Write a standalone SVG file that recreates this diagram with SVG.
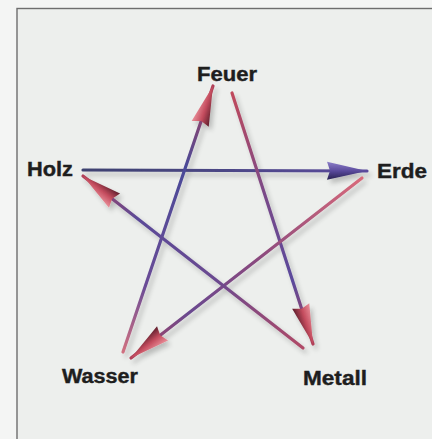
<svg xmlns="http://www.w3.org/2000/svg" width="432" height="439" viewBox="0 0 432 439">
<style>
.lbl{font-family:"Liberation Sans",Arial,sans-serif;font-weight:bold;font-size:20px;fill:#1e1e1e;stroke:#1e1e1e;stroke-width:0.4;}
.ln{stroke-width:3.2;fill:none;stroke-linecap:round;}
</style>
<defs>
<linearGradient id="hr" x1="0" y1="0" x2="0" y2="1">
<stop offset="0" stop-color="#ea909a"/><stop offset="0.5" stop-color="#c44c5e"/><stop offset="1" stop-color="#5e1e2c"/>
</linearGradient>
<linearGradient id="hb" x1="0" y1="0" x2="0" y2="1">
<stop offset="0" stop-color="#8c7ec8"/><stop offset="0.5" stop-color="#5a4a9c"/><stop offset="1" stop-color="#262050"/>
</linearGradient>
<marker id="mr" markerUnits="userSpaceOnUse" markerWidth="42" markerHeight="20" refX="40" refY="10" orient="auto" overflow="visible">
<path d="M0,1 L40,10 L0,19 L3,10 z" fill="url(#hr)"/>
</marker>
<marker id="mb" markerUnits="userSpaceOnUse" markerWidth="42" markerHeight="20" refX="40" refY="10" orient="auto" overflow="visible">
<path d="M0,1 L40,10 L0,19 L3,10 z" fill="url(#hb)"/>
</marker>
<linearGradient id="g1" gradientUnits="userSpaceOnUse" x1="83" y1="170" x2="367" y2="171">
<stop offset="0" stop-color="#3e4270"/><stop offset="1" stop-color="#5a4a9c"/>
</linearGradient>
<linearGradient id="g2" gradientUnits="userSpaceOnUse" x1="123" y1="352" x2="212" y2="87">
<stop offset="0" stop-color="#d07080"/><stop offset="0.25" stop-color="#6a4c96"/><stop offset="0.7" stop-color="#4a4a98"/><stop offset="1" stop-color="#b04058"/>
</linearGradient>
<linearGradient id="g3" gradientUnits="userSpaceOnUse" x1="232" y1="93" x2="313" y2="344">
<stop offset="0" stop-color="#c04a5c"/><stop offset="0.4" stop-color="#7a4a88"/><stop offset="0.75" stop-color="#5a4a9c"/><stop offset="1" stop-color="#b04058"/>
</linearGradient>
<linearGradient id="g4" gradientUnits="userSpaceOnUse" x1="362" y1="178" x2="131" y2="358">
<stop offset="0" stop-color="#d86a7a"/><stop offset="0.45" stop-color="#8a4a7e"/><stop offset="0.75" stop-color="#6a4a90"/><stop offset="1" stop-color="#b04058"/>
</linearGradient>
<linearGradient id="g5" gradientUnits="userSpaceOnUse" x1="303" y1="348" x2="83" y2="176">
<stop offset="0" stop-color="#b04a66"/><stop offset="0.4" stop-color="#6a4a90"/><stop offset="0.75" stop-color="#5a4a98"/><stop offset="1" stop-color="#b04058"/>
</linearGradient>
<filter id="sh" x="-20%" y="-20%" width="140%" height="140%">
<feGaussianBlur in="SourceAlpha" stdDeviation="2.5"/>
<feOffset dx="3" dy="4" result="b"/>
<feComponentTransfer><feFuncA type="linear" slope="0.22"/></feComponentTransfer>
<feMerge><feMergeNode/><feMergeNode in="SourceGraphic"/></feMerge>
</filter>
</defs>
<rect x="0" y="0" width="432" height="439" fill="#f4f5f4"/>
<rect x="17" y="8.5" width="420" height="440" fill="#edefed" stroke="#6e6e6e" stroke-width="1.4"/>
<g id="connectors" filter="url(#sh)">
<line class="ln" x1="83" y1="170" x2="367" y2="171" stroke="url(#g1)" marker-end="url(#mb)"/>
<line class="ln" x1="123" y1="352" x2="213" y2="86" stroke="url(#g2)" marker-end="url(#mr)"/>
<line class="ln" x1="232" y1="93" x2="313" y2="344" stroke="url(#g3)" marker-end="url(#mr)"/>
<line class="ln" x1="362" y1="178" x2="131" y2="358" stroke="url(#g4)" marker-end="url(#mr)"/>
<line class="ln" x1="303" y1="348" x2="83" y2="176" stroke="url(#g5)" marker-end="url(#mr)"/>
</g>
<g id="feuer"><text class="lbl" x="197" y="81" textLength="60" lengthAdjust="spacingAndGlyphs">Feuer</text></g>
<g id="holz"><text class="lbl" x="27" y="176" textLength="46" lengthAdjust="spacingAndGlyphs">Holz</text></g>
<g id="erde"><text class="lbl" x="377" y="178" textLength="50" lengthAdjust="spacingAndGlyphs">Erde</text></g>
<g id="wasser"><text class="lbl" x="62" y="383" textLength="76" lengthAdjust="spacingAndGlyphs">Wasser</text></g>
<g id="metall"><text class="lbl" x="303" y="385" textLength="64" lengthAdjust="spacingAndGlyphs">Metall</text></g>
</svg>
